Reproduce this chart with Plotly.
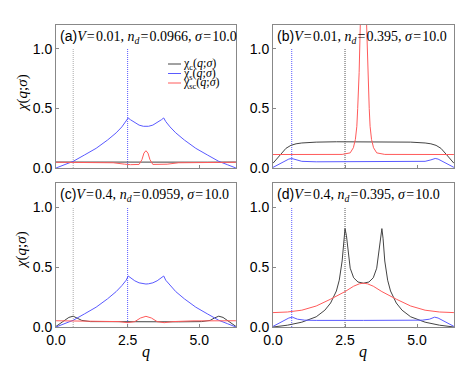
import plotly.graph_objects as go

# ---- data (q in [0, 2pi]) ----
# panel (a): V=0.01, nd=0.0966
q_s_a = [0.0, 0.3, 0.6, 1.0, 1.4, 1.8, 2.1, 2.3, 2.45, 2.52, 2.6, 2.75, 2.9, 3.05, 3.14,
         3.23, 3.38, 3.53, 3.68, 3.76, 3.83, 3.98, 4.18, 4.48, 4.88, 5.28, 5.68, 5.98, 6.28]
chi_s_a = [0.0, 0.028, 0.056, 0.11, 0.165, 0.235, 0.295, 0.345, 0.39, 0.42, 0.405, 0.38, 0.36, 0.35, 0.348,
           0.35, 0.36, 0.38, 0.405, 0.42, 0.39, 0.345, 0.295, 0.235, 0.165, 0.11, 0.056, 0.028, 0.0]
q_c_a = [0.0, 1.0, 2.0, 2.5, 3.14, 3.78, 4.28, 5.28, 6.28]
chi_c_a = [0.05, 0.049, 0.047, 0.046, 0.046, 0.046, 0.047, 0.049, 0.05]
q_sc_a = [0.0, 1.0, 2.0, 2.4, 2.6, 2.9, 3.0, 3.07, 3.14, 3.21, 3.28, 3.38, 3.68, 3.88, 4.28, 5.28, 6.28]
chi_sc_a = [0.048, 0.048, 0.044, 0.032, 0.028, 0.03, 0.07, 0.125, 0.145, 0.125, 0.07, 0.03, 0.028, 0.032, 0.044, 0.048, 0.048]
vq_a = [0.6, 2.5]

# panel (b): V=0.01, nd=0.395
q_c_b = [0.0, 0.25, 0.45, 0.62, 0.8, 1.0, 1.5, 2.2, 3.14, 4.08, 4.78, 5.28, 5.48, 5.66, 5.83, 6.03, 6.28]
chi_c_b = [0.04, 0.11, 0.165, 0.19, 0.203, 0.21, 0.217, 0.22, 0.22, 0.22, 0.217, 0.21, 0.203, 0.19, 0.165, 0.11, 0.04]
q_sc_b = [0.0, 2.4, 2.68, 2.79, 2.86, 2.91, 2.94, 2.99, 3.03, 3.08, 3.14,
          3.2, 3.25, 3.29, 3.34, 3.37, 3.42, 3.49, 3.6, 3.88, 6.28]
chi_sc_b = [0.113, 0.114, 0.127, 0.17, 0.24, 0.35, 0.5, 0.8, 1.2, 2.0, 2.8,
            2.0, 1.2, 0.8, 0.5, 0.35, 0.24, 0.17, 0.127, 0.114, 0.113]
q_s_b = [0.0, 0.3, 0.55, 0.65, 0.8, 1.0, 1.5, 3.14, 4.78, 5.28, 5.48, 5.63, 5.73, 5.98, 6.28]
chi_s_b = [0.005, 0.045, 0.075, 0.08, 0.068, 0.056, 0.052, 0.052, 0.052, 0.056, 0.068, 0.08, 0.075, 0.045, 0.005]
vq_b = [0.65, 2.5]

# panel (c): V=0.4, nd=0.0959
q_s_c = q_s_a
chi_s_c = [0.0, 0.028, 0.056, 0.11, 0.165, 0.235, 0.295, 0.345, 0.39, 0.425, 0.41, 0.385, 0.368, 0.36, 0.358,
           0.36, 0.368, 0.385, 0.41, 0.425, 0.39, 0.345, 0.295, 0.235, 0.165, 0.11, 0.056, 0.028, 0.0]
q_c_c = [0.0, 0.25, 0.45, 0.6, 0.75, 0.9, 1.2, 2.0, 3.14, 4.28, 5.08, 5.38, 5.53, 5.68, 5.83, 6.03, 6.28]
chi_c_c = [0.005, 0.045, 0.08, 0.09, 0.075, 0.055, 0.045, 0.043, 0.043, 0.043, 0.045, 0.055, 0.075, 0.09, 0.08, 0.045, 0.005]
q_sc_c = [0.0, 1.5, 2.2, 2.5, 2.75, 2.95, 3.14, 3.33, 3.53, 3.78, 4.08, 4.78, 6.28]
chi_sc_c = [0.052, 0.051, 0.045, 0.036, 0.045, 0.075, 0.089, 0.075, 0.045, 0.036, 0.045, 0.051, 0.052]
vq_c = [0.6, 2.5]

# panel (d): V=0.4, nd=0.395
q_c_d = [0.0, 0.5, 1.0, 1.5, 1.8, 2.0, 2.2, 2.3, 2.4, 2.46, 2.5, 2.55, 2.62, 2.68, 2.8, 2.95, 3.14,
         3.33, 3.48, 3.6, 3.66, 3.73, 3.78, 3.82, 3.88, 3.98, 4.08, 4.28, 4.48, 4.78, 5.28, 5.78, 6.28]
chi_c_d = [0.0, 0.015, 0.04, 0.085, 0.14, 0.2, 0.3, 0.39, 0.55, 0.74, 0.82, 0.76, 0.6, 0.49, 0.41, 0.375, 0.365,
           0.375, 0.41, 0.49, 0.6, 0.76, 0.82, 0.74, 0.55, 0.39, 0.3, 0.2, 0.14, 0.085, 0.04, 0.015, 0.0]
q_sc_d = [0.0, 0.5, 1.0, 1.5, 2.0, 2.5, 2.8, 3.0, 3.14, 3.28, 3.48, 3.78, 4.28, 4.78, 5.28, 5.78, 6.28]
chi_sc_d = [0.12, 0.125, 0.14, 0.175, 0.232, 0.295, 0.34, 0.36, 0.365, 0.36, 0.34, 0.295, 0.232, 0.175, 0.14, 0.125, 0.12]
q_s_d = [0.0, 0.3, 0.55, 0.67, 0.85, 1.1, 1.5, 3.14, 4.78, 5.18, 5.43, 5.61, 5.73, 5.98, 6.28]
chi_s_d = [0.005, 0.04, 0.075, 0.082, 0.065, 0.057, 0.055, 0.055, 0.055, 0.057, 0.065, 0.082, 0.075, 0.04, 0.005]
vq_d = [0.65, 2.5]

titles = ['(a)', '(b)', '(c)', '(d)']
V_vals = ['0.01', '0.01', '0.4', '0.4']
nd_vals = ['0.0966', '0.395', '0.0959', '0.395']
sigma = '10.0'
legend_names = ['χ<sub>c</sub>(<i>q</i>;<i>σ</i>)', 'χ<sub>s</sub>(<i>q</i>;<i>σ</i>)', 'χ<sub>sc</sub>(<i>q</i>;<i>σ</i>)']

BLACK = '#444444'
BLUE = '#5a5aff'
RED = '#ff5a5a'
W, H = 463, 371
ML, MR, MT, MB = 56, 9, 25, 44
PW, PH = W - ML - MR, H - MT - MB
SERIF = 'Liberation Serif, Times New Roman'
EQ = '\u200a=\u200a'


def fx(px):
    return (px - ML) / PW


def fy(py):
    return (H - MB - py) / PH


panels = [
    (q_c_a, chi_c_a, q_s_a, chi_s_a, q_sc_a, chi_sc_a, vq_a, ['#aaaaaa', BLUE]),
    (q_c_b, chi_c_b, q_s_b, chi_s_b, q_sc_b, chi_sc_b, vq_b, [BLUE, '#555555']),
    (q_c_c, chi_c_c, q_s_c, chi_s_c, q_sc_c, chi_sc_c, vq_c, ['#aaaaaa', BLUE]),
    (q_c_d, chi_c_d, q_s_d, chi_s_d, q_sc_d, chi_sc_d, vq_d, [BLUE, '#555555']),
]

fig = go.Figure()

for i, (qc, c, qs, s, qsc, sc, vq, vcol) in enumerate(panels):
    xa = 'x' if i == 0 else 'x%d' % (i + 1)
    ya = 'y' if i == 0 else 'y%d' % (i + 1)
    for v, col in zip(vq, vcol):
        fig.add_trace(go.Scatter(x=[v, v], y=[0, 1.0], mode='lines', xaxis=xa, yaxis=ya,
                                 line=dict(color=col, width=1, dash='1px,1px'), showlegend=False, hoverinfo='skip'))
    fig.add_trace(go.Scatter(x=qc, y=c, mode='lines', xaxis=xa, yaxis=ya,
                             line=dict(color=BLACK, width=1), showlegend=False))
    fig.add_trace(go.Scatter(x=qs, y=s, mode='lines', xaxis=xa, yaxis=ya,
                             line=dict(color=BLUE, width=1), showlegend=False))
    fig.add_trace(go.Scatter(x=qsc, y=sc, mode='lines', xaxis=xa, yaxis=ya,
                             line=dict(color=RED, width=1), showlegend=False))

# panel boxes in pixels: left, right, top, bottom
boxes = [(56, 236, 25, 168), (273, 454, 25, 168), (56, 236, 183, 327), (273, 454, 183, 327)]

layout = dict(width=W, height=H, margin=dict(l=ML, r=MR, t=MT, b=MB, autoexpand=False),
              paper_bgcolor='white', plot_bgcolor='white', showlegend=False)
tickfont = dict(family='Liberation Sans, Arial', size=14, color='black')
annotations = []
for i, (l, r, t, b) in enumerate(boxes):
    sfx = '' if i == 0 else str(i + 1)
    layout['xaxis' + sfx] = dict(domain=[fx(l), fx(r)], range=[0, 6.2832], anchor='y' + sfx,
                                 showgrid=False, zeroline=False, showline=True, mirror=True,
                                 linecolor='#888888', linewidth=1, ticks='inside', ticklen=3,
                                 tickcolor='#888888', tickvals=[0, 2.5, 5.0],
                                 ticktext=['0.0', '2.5', '5.0'], showticklabels=(i >= 2),
                                 tickfont=tickfont, automargin=False)
    layout['yaxis' + sfx] = dict(domain=[fy(b), fy(t)], range=[0, 1.2], anchor='x' + sfx,
                                 showgrid=False, zeroline=False, showline=True, mirror=True,
                                 linecolor='#888888', linewidth=1, ticks='inside', ticklen=3,
                                 tickcolor='#888888', tickvals=[0, 0.5, 1.0],
                                 ticktext=['0.0', '0.5', '1.0'], tickfont=tickfont, automargin=False)
    annotations.append(dict(
        x=fx(l + 2), y=fy(t + 1), xref='paper', yref='paper', xanchor='left', yanchor='top',
        showarrow=False,
        text=('<span style="font-family:Liberation Sans">%s</span><i>V</i>%s%s, '
              '<i>n<sub>d</sub></i>%s%s, <i>σ</i>%s%s') % (titles[i], EQ, V_vals[i], EQ, nd_vals[i], EQ, sigma),
        font=dict(family=SERIF, size=14, color='black')))

# y titles and x titles
for yc in [93, 250]:
    annotations.append(dict(x=fx(22), y=fy(yc), xref='paper', yref='paper', showarrow=False,
                            xanchor='center', yanchor='middle',
                            text='<i>χ</i>(<i>q</i>;<i>σ</i>)', textangle=-90,
                            font=dict(family=SERIF, size=15, color='black')))
for xc in [146, 363]:
    annotations.append(dict(x=fx(xc), y=fy(352), xref='paper', yref='paper', showarrow=False,
                            xanchor='center', yanchor='middle',
                            text='<i>q</i>', font=dict(family=SERIF, size=16, color='black')))

# hand-made legend inside panel (a)
shapes = []
for k, (name, col) in enumerate(zip(legend_names, [BLACK, BLUE, RED])):
    yy = 64 + k * 9.5
    shapes.append(dict(type='line', xref='paper', yref='paper', x0=fx(168), x1=fx(181),
                       y0=fy(yy), y1=fy(yy), line=dict(color=col, width=1)))
    annotations.append(dict(x=fx(181), y=fy(yy), xref='paper', yref='paper', xanchor='left',
                            yanchor='middle', showarrow=False, text=name,
                            font=dict(family=SERIF, size=12, color='black')))

layout['annotations'] = annotations
layout['shapes'] = shapes
fig.update_layout(**layout)

# page body has a default margin; drop it so the figure sits at the window corner
fig.write_html("out.html", config={'displayModeBar': False},
               post_script="document.body.style.margin='0';")
